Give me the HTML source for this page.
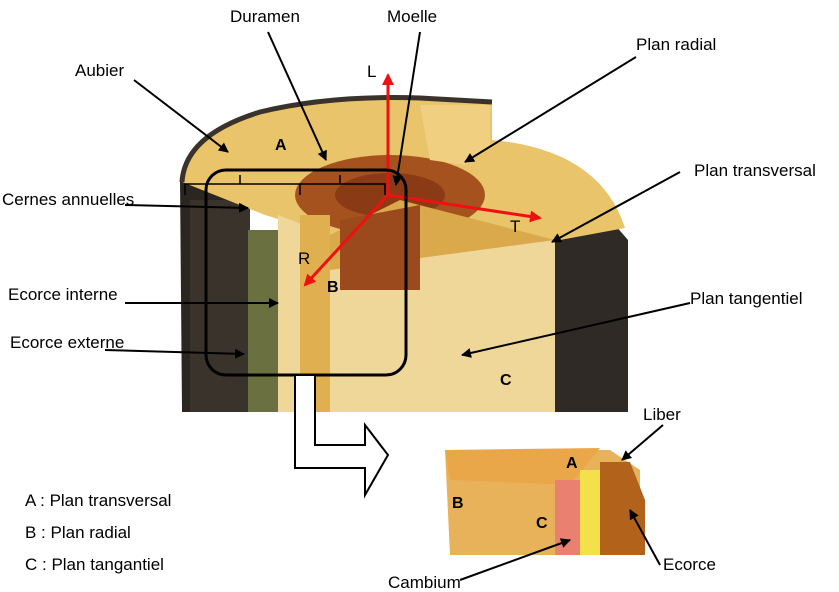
<!DOCTYPE html>
<html><head><meta charset="utf-8"><style>
html,body{margin:0;padding:0;background:#fff;}
svg{display:block;font-family:"Liberation Sans",sans-serif;}
</style></head><body>
<svg width="839" height="592" viewBox="0 0 839 592" xmlns="http://www.w3.org/2000/svg">
<defs>
<marker id="ah" markerWidth="10" markerHeight="10" refX="9" refY="5" orient="auto" markerUnits="userSpaceOnUse"><path d="M0,0 L10,5 L0,10 z" fill="#000"/></marker>
<marker id="rh" markerWidth="12" markerHeight="12" refX="10" refY="6" orient="auto" markerUnits="userSpaceOnUse"><path d="M0,0 L12,6 L0,12 z" fill="#e11"/></marker>
</defs>
<!-- bark -->
<path d="M180,180 L250,200 L250,412 L182,412 Z" fill="#2b2622"/>
<path d="M555,230 L615,225 L628,240 L628,412 L555,412 Z" fill="#2f2a26"/>
<rect x="190" y="200" width="60" height="212" fill="#3a332c"/>
<rect x="248" y="230" width="30" height="182" fill="#6a7040"/>
<!-- top surface -->
<path d="M182,182 Q185,135 260,112 Q330,95 420,98 L492,102 L492,140 Q600,150 625,228 L560,240 Q420,250 330,235 L265,215 Z" fill="#e9c46a"/>
<path d="M182,182 Q185,135 260,112 Q330,95 420,98 L492,102" fill="none" stroke="#3a332c" stroke-width="5"/>
<ellipse cx="390" cy="195" rx="95" ry="40" fill="#a5521f"/>
<ellipse cx="390" cy="195" rx="55" ry="22" fill="#8a3a14"/>
<path d="M420,105 L490,105 L490,145 L465,165 L430,160 Z" fill="#f0d080"/>
<!-- front face -->
<path d="M278,215 L330,235 Q420,250 555,240 L555,412 L278,412 Z" fill="#efd79a"/>
<rect x="300" y="215" width="30" height="197" fill="#e0b050"/>
<path d="M330,235 L400,200 L555,240 L330,270 Z" fill="#d9a94c"/>
<path d="M340,220 L420,205 L420,290 L340,290 Z" fill="#9a4a1c"/>
<!-- red arrows -->
<line x1="388" y1="195" x2="388" y2="75" stroke="#e11" stroke-width="3" marker-end="url(#rh)"/>
<line x1="388" y1="195" x2="540" y2="218" stroke="#e11" stroke-width="3" marker-end="url(#rh)"/>
<line x1="388" y1="195" x2="305" y2="285" stroke="#e11" stroke-width="3" marker-end="url(#rh)"/>
<rect x="206" y="170" width="200" height="205" rx="20" fill="none" stroke="#000" stroke-width="3"/>
<!-- hollow arrow -->
<path d="M295,376 L295,468 L365,468 L365,495 L388,455 L365,425 L365,445 L315,445 L315,376" fill="#fff" stroke="#000" stroke-width="2"/>
<!-- small block -->
<path d="M445,450 L610,450 L640,470 L640,555 L450,555 Z" fill="#e8b25a"/>
<path d="M445,450 L600,448 L570,485 L450,480 Z" fill="#e9a74a"/>
<rect x="555" y="480" width="25" height="75" fill="#e98070"/>
<rect x="580" y="470" width="20" height="85" fill="#f3e04a"/>
<path d="M600,462 L630,462 L645,500 L645,555 L600,555 Z" fill="#b3621c"/>
<path d="M185,195 L185,184 L300,184 L300,195 M240,184 L240,175 M295,184 L385,184 L385,195 M340,184 L340,175" fill="none" stroke="#000" stroke-width="1.5"/>
<g stroke="#000" stroke-width="2" fill="none" marker-end="url(#ah)">
<line x1="134" y1="80" x2="228" y2="152"/>
<line x1="268" y1="32" x2="326" y2="160"/>
<line x1="420" y1="32" x2="396" y2="185"/>
<line x1="636" y1="57" x2="465" y2="162"/>
<line x1="680" y1="172" x2="552" y2="242"/>
<line x1="690" y1="303" x2="462" y2="355"/>
<line x1="125" y1="205" x2="248" y2="208"/>
<line x1="125" y1="303" x2="278" y2="303"/>
<line x1="105" y1="350" x2="244" y2="354"/>
<line x1="663" y1="425" x2="622" y2="460"/>
<line x1="660" y1="565" x2="630" y2="510"/>
<line x1="460" y1="580" x2="570" y2="540"/>
</g>
<g font-size="17" fill="#000">
<text x="230" y="22">Duramen</text>
<text x="387" y="22">Moelle</text>
<text x="75" y="76">Aubier</text>
<text x="636" y="50">Plan radial</text>
<text x="694" y="176">Plan transversal</text>
<text x="2" y="205">Cernes annuelles</text>
<text x="8" y="300">Ecorce interne</text>
<text x="10" y="348">Ecorce externe</text>
<text x="690" y="304">Plan tangentiel</text>
<text x="643" y="420">Liber</text>
<text x="663" y="570">Ecorce</text>
<text x="388" y="588">Cambium</text>
<text x="25" y="506">A : Plan transversal</text>
<text x="25" y="538">B : Plan radial</text>
<text x="25" y="570">C : Plan tangantiel</text>
<text x="367" y="77">L</text>
<text x="510" y="232">T</text>
<text x="298" y="264">R</text>
</g>
<g font-size="16" font-weight="bold" fill="#000">
<text x="275" y="150">A</text>
<text x="327" y="292">B</text>
<text x="500" y="385">C</text>
<text x="566" y="468">A</text>
<text x="452" y="508">B</text>
<text x="536" y="528">C</text>
</g>
</svg>
</body></html>
